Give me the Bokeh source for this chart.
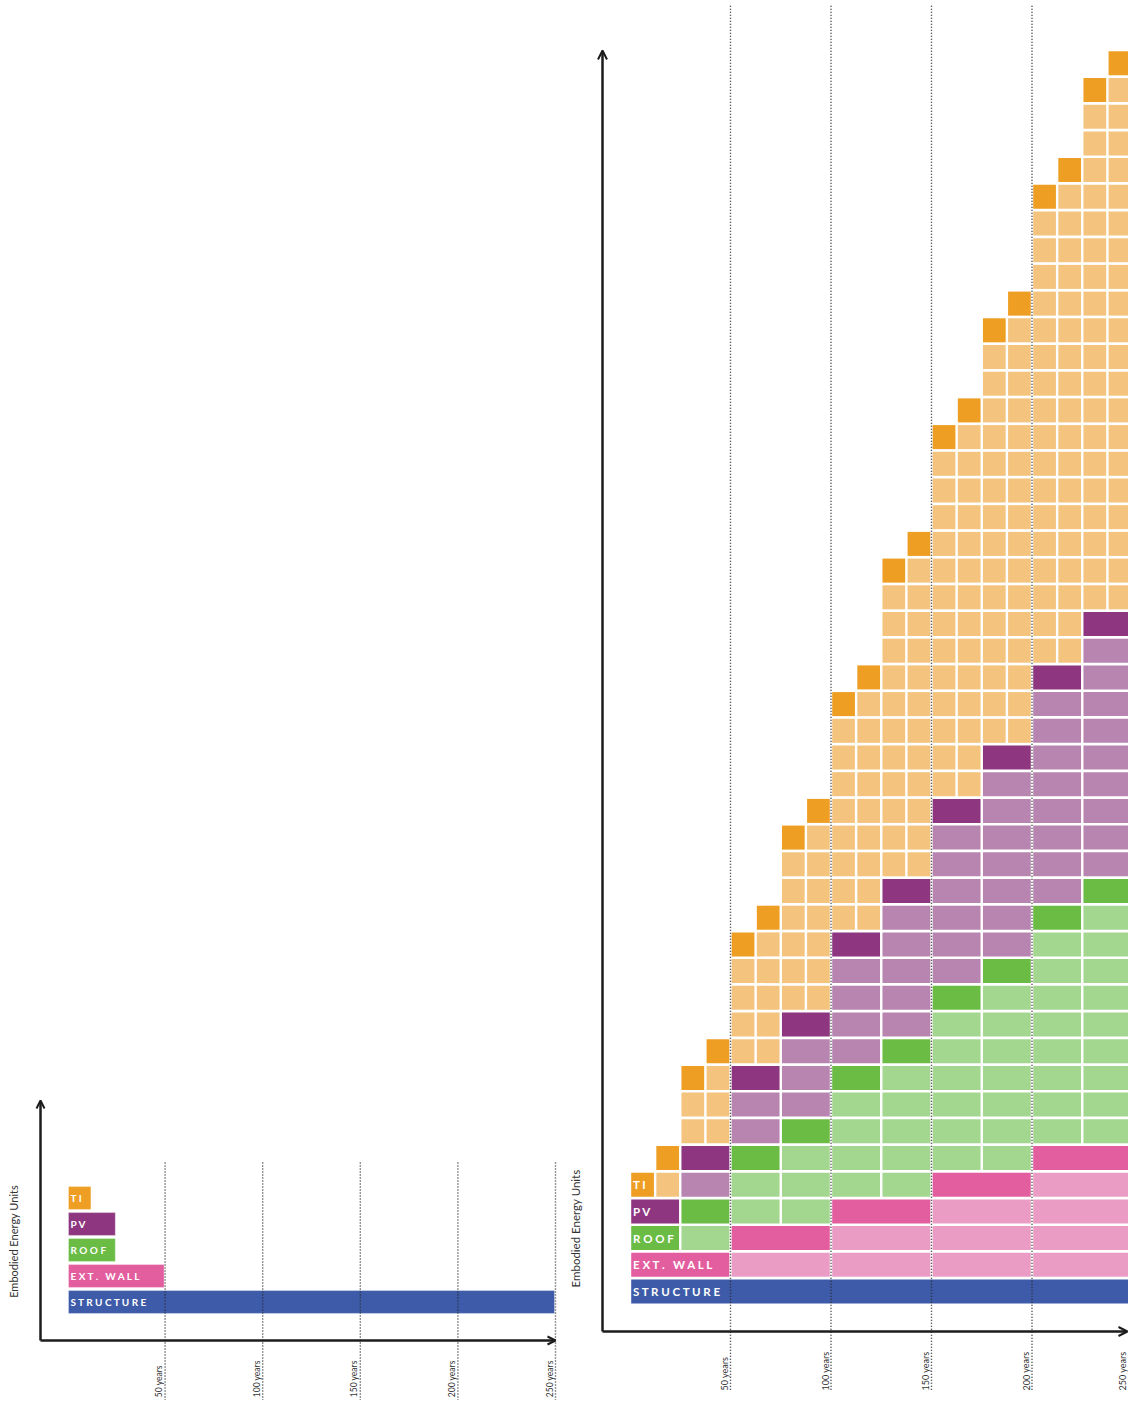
from bokeh.plotting import figure
from bokeh.models import Range1d, Arrow, OpenHead, ColumnDataSource
from bokeh.layouts import row
from bokeh.embed import file_html
from bokeh.resources import INLINE
from bokeh.core.properties import value

# ---------------- data ----------------
elements = ["STRUCTURE", "EXT. WALL", "ROOF", "PV", "TI"]
element_labels = ["S T R U C T U R E", "E X T .\u00a0\u00a0\u00a0W A L L", "R O O F", "P V", "T I"]
lifespan_years = [250, 50, 25, 25, 12.5]
strong_colors = ["#3E5BA9", "#E35E9F", "#6BBC45", "#8E3780", "#EE9E22"]
light_colors = ["#3E5BA9", "#EA9CC5", "#A3D78F", "#B885B1", "#F4C47F"]

# start year of each 12.5-year column of the cumulative chart
column_start = [0, 12.5, 25, 37.5, 50, 62.5, 75, 87.5, 100, 112.5,
                125, 137.5, 150, 162.5, 175, 187.5, 200, 212.5, 225, 237.5]
# number of installed units stacked in each column
structure_count = [1, 1, 1, 1, 1, 1, 1, 1, 1, 1, 1, 1, 1, 1, 1, 1, 1, 1, 1, 1]
ext_wall_count = [1, 1, 1, 1, 2, 2, 2, 2, 3, 3, 3, 3, 4, 4, 4, 4, 5, 5, 5, 5]
roof_count = [1, 1, 2, 2, 3, 3, 4, 4, 5, 5, 6, 6, 7, 7, 8, 8, 9, 9, 10, 10]
pv_count = [1, 1, 2, 2, 3, 3, 4, 4, 5, 5, 6, 6, 7, 7, 8, 8, 9, 9, 10, 10]
ti_count = [1, 2, 3, 4, 5, 6, 7, 8, 9, 10, 12, 13, 14, 15, 16, 17, 18, 19, 20, 21]

tick_years = [50, 100, 150, 200, 250]
tick_labels = ["50 years", "100 years", "150 years", "200 years", "250 years"]
y_axis_title = "Embodied Energy Units"

counts = [structure_count, ext_wall_count, roof_count, pv_count, ti_count]
COL_W = 12.5

AXIS_COLOR = "#1c1c1c"
DOT_COLOR = "#2a2a2a"
DOT_DASH = "1 2"
DOT_W = 1.4
LABEL_FONT = value("Lato")
H = 1400


def base_fig(w, h, xr, yr):
    p = figure(width=w, height=h, x_range=Range1d(*xr), y_range=Range1d(*yr),
               output_backend="svg", toolbar_location=None,
               x_axis_type=None, y_axis_type=None, min_border=0)
    p.grid.visible = False
    p.outline_line_color = None
    p.background_fill_color = "white"
    p.border_fill_color = "white"
    return p


# ---------------- left chart: one life cycle ----------------
pL = base_fig(563, H, (-34.324, 254.098), (-3.788, 50.058))

ins = 0.5
hh = 0.44
srcL = ColumnDataSource(dict(
    left=[0 + ins for _ in elements],
    right=[L - ins for L in lifespan_years],
    bottom=[i - hh for i in range(len(elements))],
    top=[i + hh for i in range(len(elements))],
    color=strong_colors,
))
pL.quad(left="left", right="right", bottom="bottom", top="top", source=srcL,
        fill_color="color", line_color="white", line_alpha=0.35, line_width=1)
pL.text(x=[0] * len(elements), y=list(range(len(elements))), text=element_labels,
        x_offset=3, text_font=LABEL_FONT, text_font_style="bold",
        text_font_size="10px", text_color="white", text_align="left",
        text_baseline="middle")

# dotted year lines
pL.segment(x0=tick_years, x1=tick_years, y0=[5.365] * 5, y1=[-3.8] * 5,
           line_color=DOT_COLOR, line_dash=DOT_DASH, line_width=DOT_W)
pL.text(x=tick_years, y=[-3.66] * 5, text=tick_labels, angle=1.5708,
        x_offset=-6, text_font=LABEL_FONT, text_font_size="8.5px",
        text_color="#333333", text_align="left", text_baseline="middle")
pL.text(x=[-27.7], y=[2.33], text=[y_axis_title], angle=1.5708,
        text_font=LABEL_FONT, text_font_size="11px", text_color="#333333",
        text_align="center", text_baseline="middle")

pL.add_layout(Arrow(end=OpenHead(size=8, line_width=2, line_color=AXIS_COLOR),
                    x_start=-13.83, y_start=-1.48, x_end=-13.83, y_end=7.75,
                    line_width=2.5, line_color=AXIS_COLOR))
pL.add_layout(Arrow(end=OpenHead(size=8, line_width=2, line_color=AXIS_COLOR),
                    x_start=-13.83, y_start=-1.48, x_end=250, y_end=-1.48,
                    line_width=2.5, line_color=AXIS_COLOR))

# ---------------- right chart: cumulative replacements ----------------
pR = base_fig(565, H, (-33.085, 248.01), (-4.082, 48.352))

lefts, rights, bottoms, tops, colors = [], [], [], [], []
dx = 0.6
dy = 0.45
for e in range(len(elements)):
    span = int(round(lifespan_years[e] / COL_W))
    for c in range(0, len(column_start), span):
        n = counts[e][c]
        base = sum(counts[k][c] for k in range(e))
        for j in range(n):
            r = base + j
            lefts.append(column_start[c] + dx)
            rights.append(column_start[c] + lifespan_years[e] - dx)
            bottoms.append(r - dy)
            tops.append(r + dy)
            colors.append(strong_colors[e] if j == n - 1 else light_colors[e])

srcR = ColumnDataSource(dict(left=lefts, right=rights, bottom=bottoms, top=tops,
                             color=colors))
pR.quad(left="left", right="right", bottom="bottom", top="top", source=srcR,
        fill_color="color", line_color=None)

pR.text(x=[0] * len(elements), y=list(range(len(elements))), text=element_labels,
        x_offset=3, text_font=LABEL_FONT, text_font_style="bold",
        text_font_size="11.5px", text_color="white", text_align="left",
        text_baseline="middle")

pR.segment(x0=tick_years, x1=tick_years, y0=[48.16] * 5, y1=[-3.708] * 5,
           line_color=DOT_COLOR, line_dash=DOT_DASH, line_width=DOT_W)
tick_offsets = [-6 if t < 250 else -10 for t in tick_years]
srcT = ColumnDataSource(dict(x=tick_years, y=[-3.708] * 5, text=tick_labels,
                             xo=tick_offsets))
pR.text(x="x", y="y", text="text", x_offset="xo", source=srcT, angle=1.5708,
        text_font=LABEL_FONT, text_font_size="9px",
        text_color="#333333", text_align="left", text_baseline="middle")
pR.text(x=[-27.1], y=[2.36], text=[y_axis_title], angle=1.5708,
        text_font=LABEL_FONT, text_font_size="11.5px", text_color="#333333",
        text_align="center", text_baseline="middle")

pR.add_layout(Arrow(end=OpenHead(size=9, line_width=2, line_color=AXIS_COLOR),
                    x_start=-13.68, y_start=-1.498, x_end=-13.68, y_end=46.48,
                    line_width=2.5, line_color=AXIS_COLOR))
pR.add_layout(Arrow(end=OpenHead(size=9, line_width=2, line_color=AXIS_COLOR),
                    x_start=-13.68, y_start=-1.498, x_end=247.5, y_end=-1.498,
                    line_width=2.5, line_color=AXIS_COLOR))

layout = row(pL, pR)
open("out.html", "w").write(file_html(layout, INLINE))
